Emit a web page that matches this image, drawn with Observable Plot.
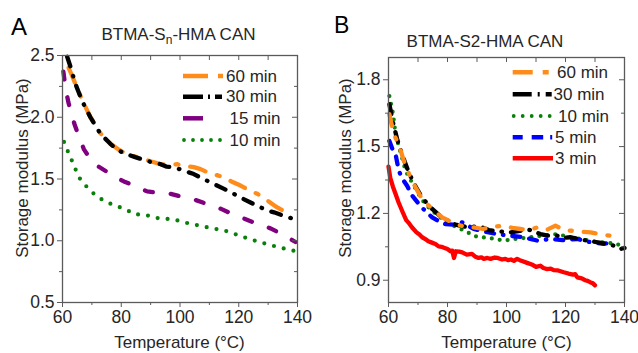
<!DOCTYPE html>
<html>
<head>
<meta charset="utf-8">
<script src="https://cdn.jsdelivr.net/npm/d3@7"></script>
<script src="https://cdn.jsdelivr.net/npm/@observablehq/plot@0.6"></script>
<style>
  body { margin: 0; background: #fff; }
  #fig { position: relative; width: 638px; height: 353px; overflow: hidden; background: #fff;
         font-family: Arial, "Liberation Sans", sans-serif; }
  #fig > svg { position: absolute; top: 0; }
  #overlay { position: absolute; left: 0; top: 0; pointer-events: none; }
</style>
</head>
<body>
<div id="fig"></div>
<script>
// ---------------- DATA ----------------
const xMajor = [60, 80, 100, 120, 140];
const xMinor = [70, 90, 110, 130];
const yMajorA = [0.5, 1.0, 1.5, 2.0, 2.5];
const yMinorA = [0.75, 1.25, 1.75, 2.25];
const yMajorB = [0.9, 1.2, 1.5, 1.8];
const yMinorB = [1.05, 1.35, 1.65];

const titleA = ["BTMA-S", "n", "-HMA CAN"];
const titleB = "BTMA-S2-HMA CAN";
const xLabel = "Temperature (°C)";
const yLabel = "Storage modulus (MPa)";

const seriesA = ["60 min", "30 min", "15 min", "10 min"];
const seriesB = ["60 min", "30 min", "10 min", "5 min", "3 min"];

// Panel A: [temperature °C, storage modulus MPa]
const a60 = [[62.1,2.40],[63,2.35],[64.4,2.27],[66.7,2.14],[69.5,2.00],[72.9,1.87],[76.3,1.785],[79,1.74],
  [82,1.70],[85,1.68],[87.7,1.66],[90.5,1.64],[93.4,1.62],[96,1.615],[99,1.62],[101.5,1.605],[104.7,1.596],
  [107,1.58],[109.3,1.555],[112,1.535],[114.9,1.515],[117.5,1.48],[120.6,1.447],[123.5,1.41],[126.3,1.38],
  [129.5,1.33],[133.1,1.27],[136.5,1.225]];
const a30 = [[61.6,2.49],[62.7,2.41],[64.4,2.27],[66.7,2.13],[69.5,2.00],[72.9,1.866],[76.3,1.785],[79,1.73],
  [82,1.70],[85,1.675],[87.7,1.655],[90.5,1.635],[93.4,1.62],[95.5,1.60],[97.9,1.596],[101,1.57],[104.7,1.54],
  [108,1.50],[111.5,1.46],[115,1.42],[118.3,1.38],[121,1.345],[124,1.31],[127,1.275],[129.7,1.245],[132,1.23],
  [135,1.205],[138.2,1.18]];
const a15 = [[60.3,2.37],[61,2.24],[62,2.12],[63,2.04],[64,1.95],[65.5,1.85],[67.3,1.74],[69,1.68],[71,1.62],
  [74,1.575],[77,1.53],[80.9,1.48],[84,1.45],[88.8,1.40],[92,1.39],[96.8,1.38],[100,1.36],[104.7,1.335],
  [109,1.30],[113.8,1.26],[117.5,1.22],[121.7,1.18],[126,1.14],[130.8,1.10],[135,1.05],[139.3,0.99]];
const a10 = [[60.5,1.80],[61.5,1.74],[62.7,1.68],[63.8,1.61],[65,1.55],[66,1.50],[67.3,1.46],[69,1.42],
  [70.7,1.38],[73,1.34],[76.3,1.30],[80.8,1.26],[83,1.235],[84.3,1.215],[88,1.21],[93,1.18],[96.8,1.175],
  [99,1.165],[103,1.14],[108.1,1.115],[111,1.10],[114.9,1.085],[118,1.06],[122.9,1.02],[127,0.99],
  [130.8,0.965],[134,0.945],[137.6,0.925],[139.5,0.915]];

// Panel B
const b60 = [[60.3,1.645],[61.8,1.555],[63.5,1.51],[65.2,1.436],[67.5,1.36],[69.2,1.316],[71.4,1.264],
  [74.8,1.22],[78.2,1.182],[82.7,1.152],[86,1.14],[88.9,1.137],[92,1.13],[95,1.14],[99.1,1.145],[102,1.135],
  [104.7,1.13],[107.5,1.125],[110.4,1.137],[113.5,1.125],[116.6,1.145],[119.5,1.125],[122.3,1.122],
  [125.5,1.118],[128.5,1.115],[132,1.105],[135.3,1.10],[136.5,1.095]];
const b30 = [[60.3,1.69],[61.5,1.61],[63,1.53],[65,1.45],[67,1.38],[69.2,1.32],[71.4,1.27],[74.8,1.22],
  [78.2,1.18],[82.7,1.15],[86,1.14],[91.2,1.14],[94,1.125],[97,1.12],[101.4,1.115],[104,1.12],[107,1.13],
  [111.5,1.107],[114,1.10],[117.2,1.10],[119.5,1.09],[121.7,1.093],[124.5,1.085],[127.3,1.078],[131,1.07],
  [134.1,1.063],[136.5,1.055],[138.6,1.04],[140,1.045]];
const b10 = [[60.3,1.727],[61.5,1.65],[62.4,1.555],[64.1,1.473],[65.8,1.39],[68.6,1.324],[70.5,1.28],
  [72.5,1.24],[75,1.21],[78.2,1.175],[82,1.145],[86,1.12],[90,1.095],[94,1.09],[99.1,1.078],[103,1.085],
  [108.1,1.093],[112,1.10],[117.2,1.107],[121,1.095],[125.1,1.085],[129,1.075],[133,1.07],[136.5,1.065],
  [139.2,1.055],[140,1.055]];
const b5 = [[60.3,1.525],[61.3,1.49],[62.4,1.466],[63.5,1.39],[65,1.35],[66.3,1.324],[68,1.28],[70.3,1.242],
  [72.5,1.21],[74.8,1.182],[77,1.165],[79.3,1.152],[82,1.15],[85,1.16],[88.9,1.13],[92,1.12],[96.8,1.107],
  [101,1.10],[105.8,1.093],[110.4,1.078],[114.9,1.085],[119,1.08],[124,1.085],[128,1.072],[133,1.063],
  [135.8,1.07]];
const b3 = [[60,1.41],[60.6,1.36],[61.5,1.32],[62.4,1.287],[63.4,1.25],[64.6,1.212],[66,1.17],[67,1.155],
  [68,1.137],[69.5,1.115],[70.5,1.105],[71.4,1.093],[72.5,1.085],[73.5,1.075],[74.5,1.07],[75.9,1.063],
  [77,1.052],[78,1.05],[79,1.045],[80,1.04],[81,1.03],[81.6,1.033],[82.2,1.0],[82.8,1.03],[84,1.028],
  [85,1.025],[86.5,1.015],[88.3,1.018],[89.5,1.005],[90.5,1.0],[91.5,1.003],[92.3,0.996],[93.5,1.0],
  [94.6,0.996],[96,1.002],[97,1.0],[98.5,0.993],[99.6,0.996],[100.5,0.99],[101.5,0.993],[102.5,0.987],
  [103.6,0.996],[104.5,0.99],[105.5,0.985],[107,0.978],[108.1,0.973],[109,0.968],[110,0.96],[111.5,0.965],
  [112.5,0.955],[113.8,0.95],[115,0.952],[116,0.945],[117.5,0.944],[119.4,0.936],[121,0.93],[122.5,0.925],
  [123.3,0.927],[124,0.913],[125.5,0.908],[126.7,0.9],[127.5,0.897],[128.5,0.89],[129.3,0.886],[130,0.877]];

// ---------------- STYLES ----------------
const font = 'Arial, "Liberation Sans", sans-serif';
const axisColor = "#5a5a5a";
const textColor = "#262626";
const styleA = {
  "60 min": {color: "#ff8c1a", dash: "16,12,3,12", leg: "25,10,5"},
  "30 min": {color: "#000000", dash: "10,10,0.5,10", leg: "20,5,2,5,7"},
  "15 min": {color: "#800080", dash: "8,18", leg: "20,30"},
  "10 min": {color: "#0a800a", dash: "0,10", leg: "0,9", round: true}
};
const styleB = {
  "60 min": {color: "#ff8c1a", dash: "12,12,2,12", leg: "20,10,6"},
  "30 min": {color: "#000000", dash: "10,9,0.5,9", leg: "19,6,2,6,6"},
  "10 min": {color: "#0a800a", dash: "0,8", leg: "0,9", round: true},
  "5 min":  {color: "#0000ff", dash: "8,9,8,9,0.5,9", leg: "10,9,11.5,7,2"},
  "3 min":  {color: "#ff0000", dash: null, leg: null}
};

const toRows = (name, pts) => pts.map(([T, v]) => ({series: name, T, v}));

function panel({series, data, styles, order, yDomain, yMajor, yMinor, yFmt, mL, mR, mT, mB}) {
  const W = 319, H = 353;
  const innerW = W - mL - mR, innerH = H - mT - mB;
  const lines = order.map(name => {
    const s = styles[name];
    return Plot.line(toRows(name, data[series.indexOf(name)]), {
      x: "T", y: "v", stroke: s.color, strokeWidth: s.round ? 4.2 : 4.3,
      strokeDasharray: s.dash, strokeLinecap: "round", strokeLinejoin: "round"
    });
  });
  const allX = [...xMajor, ...xMinor];
  return Plot.plot({
    width: W, height: H, marginLeft: mL, marginRight: mR, marginTop: mT, marginBottom: mB,
    x: {domain: [60, 140]},
    y: {domain: yDomain},
    style: {fontFamily: font, fontSize: "17.5px", color: textColor, background: "transparent", overflow: "visible"},
    marks: [
      ...lines,
      Plot.frame({stroke: axisColor, strokeWidth: 1.3}),
      Plot.axisX({anchor: "bottom", ticks: xMajor, tickSize: 5, tickPadding: 3, tickFormat: d => d, label: null, stroke: axisColor}),
      Plot.axisX({anchor: "bottom", ticks: xMinor, tickSize: 3, tickFormat: () => "", label: null, stroke: axisColor}),
      Plot.tickX(allX, {x: d => d, insetBottom: innerH - 5, stroke: axisColor}),
      Plot.axisY({anchor: "left", ticks: yMajor, tickSize: 5, tickPadding: 3, tickFormat: yFmt, label: null, stroke: axisColor}),
      Plot.axisY({anchor: "left", ticks: yMinor, tickSize: 3, tickFormat: () => "", label: null, stroke: axisColor}),
      Plot.tickY(yMajor, {y: d => d, insetLeft: innerW - 5, stroke: axisColor}),
      Plot.tickY(yMinor, {y: d => d, insetLeft: innerW - 3, stroke: axisColor})
    ]
  });
}

const fig = document.getElementById("fig");

const plotA = panel({
  series: seriesA, data: [a60, a30, a15, a10], styles: styleA,
  order: ["10 min", "15 min", "60 min", "30 min"],
  yDomain: [0.5, 2.5], yMajor: yMajorA, yMinor: yMinorA, yFmt: d3.format(".1f"),
  mL: 62, mR: 22, mT: 55, mB: 51
});
plotA.style.left = "0px";
fig.appendChild(plotA);

const plotB = panel({
  series: seriesB, data: [b60, b30, b10, b5, b3], styles: styleB,
  order: ["3 min", "10 min", "5 min", "30 min", "60 min"],
  yDomain: [0.8, 1.9], yMajor: yMajorB, yMinor: yMinorB, yFmt: d3.format(".1f"),
  mL: 69, mR: 14, mT: 57, mB: 51
});
plotB.style.left = "319px";
fig.appendChild(plotB);

// ---------------- OVERLAY TEXT & LEGENDS ----------------
function legendSVG(names, styles, x0, x1, ys, textX) {
  return names.map((name, i) => {
    const s = styles[name], y = ys[i];
    const dash = s.leg ? `stroke-dasharray="${s.leg}"` : "";
    const cap = s.round ? "round" : "butt";
    const sw = s.round ? 3.8 : 4.5;
    const xa = s.round ? x0 + 1 : x0;
    return `<line x1="${xa}" x2="${x1}" y1="${y}" y2="${y}" stroke="${s.color}" stroke-width="${sw}" stroke-linecap="${cap}" ${dash}/>` +
      `<text x="${textX[i]}" y="${y + 5.5}" font-size="17" fill="${textColor}">${name}</text>`;
  }).join("");
}

const overlay = `
<svg id="overlay" width="638" height="353" font-family='${font}'>
  <text x="11" y="35" font-size="24" fill="#000">A</text>
  <text x="334" y="33" font-size="23" fill="#000">B</text>
  <text x="178.5" y="40" font-size="17" text-anchor="middle" fill="${textColor}">${titleA[0]}<tspan font-size="12" dy="4">${titleA[1]}</tspan><tspan dy="-4">${titleA[2]}</tspan></text>
  <text x="485" y="46.5" font-size="17" text-anchor="middle" fill="${textColor}">${titleB}</text>
  <text x="179.5" y="348" font-size="17" text-anchor="middle" fill="${textColor}">${xLabel}</text>
  <text x="506.5" y="348" font-size="17" text-anchor="middle" fill="${textColor}">${xLabel}</text>
  <text transform="translate(28,168) rotate(-90)" font-size="17" text-anchor="middle" fill="${textColor}">${yLabel}</text>
  <text transform="translate(351,168) rotate(-90)" font-size="17" text-anchor="middle" fill="${textColor}">${yLabel}</text>
  ${legendSVG(seriesA, styleA, 183, 223, [76, 96.7, 118.3, 140], [226, 226, 229.5, 229.5])}
  ${legendSVG(seriesB, styleB, 512.7, 553, [72.3, 94.3, 116, 137.3, 158.3], [557, 553.5, 558, 555, 555])}
</svg>`;
fig.insertAdjacentHTML("beforeend", overlay);
</script>
</body>
</html>
